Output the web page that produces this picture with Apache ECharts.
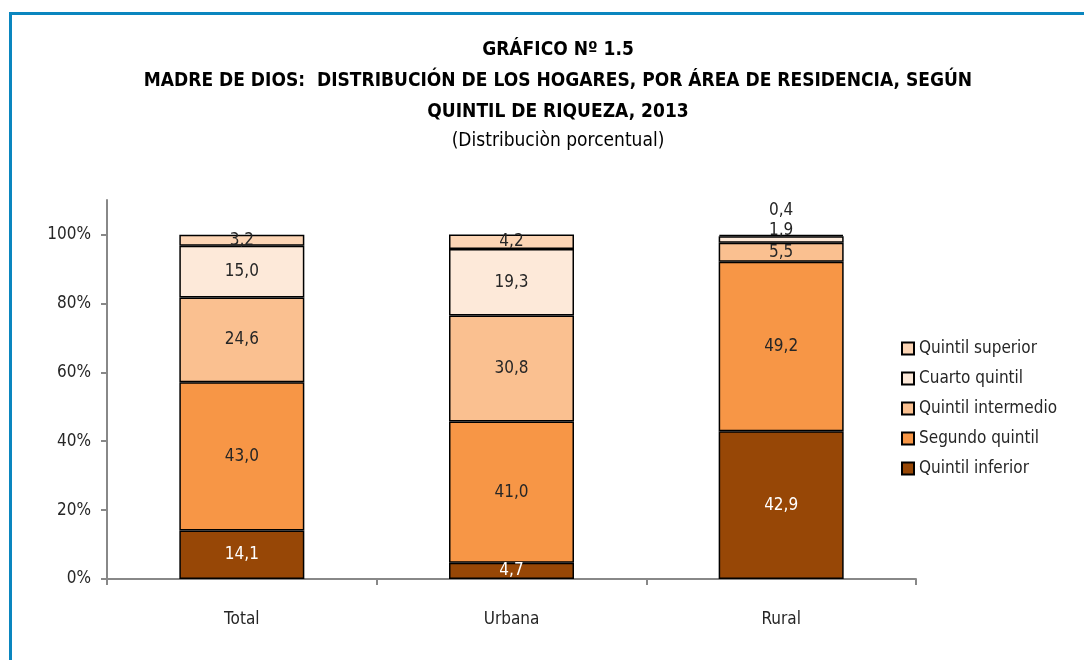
<!DOCTYPE html>
<html>
<head>
<meta charset="utf-8">
<script src="https://cdn.jsdelivr.net/npm/echarts@6/dist/echarts.min.js"></script>
<style>
  html, body { margin: 0; padding: 0; background: #fff; }
  #chart { width: 1084px; height: 660px; }
  #frame {
    position: absolute; left: 9px; top: 12px; right: -10px; bottom: -10px;
    border-left: 3px solid #0a86bf; border-top: 3px solid #0a86bf;
    pointer-events: none;
  }
</style>
</head>
<body>
<div id="chart"></div>
<div id="frame"></div>
<script>
// categories and values (percent)
var categories = ['Total', 'Urbana', 'Rural']
var quintilInferior = [14.1, 4.7, 42.9]
var segundoQuintil = [43.0, 41.0, 49.2]
var quintilIntermedio = [24.6, 30.8, 5.5]
var cuartoQuintil = [15.0, 19.3, 1.9]
var quintilSuperior = [3.2, 4.2, 0.4]
var yTicks = [0, 20, 40, 60, 80, 100]

var FONT = '"Liberation Sans Narrow", "DejaVu Sans Condensed", sans-serif'

var chart = echarts.init(document.getElementById('chart'))

function fmt(p) {
  return p.value.toFixed(1).replace('.', ',')
}

function bar(name, data, color, labelColor) {
  return {
    name: name,
    type: 'bar',
    stack: 'total',
    barWidth: 125,
    data: data,
    itemStyle: {
      color: color,
      borderColor: '#000',
      borderWidth: 1.5
    },
    label: {
      show: true,
      position: 'inside',
      formatter: fmt,
      color: labelColor || '#262626',
      fontFamily: FONT,
      fontSize: 17
    },
    emphasis: { disabled: true },
    animation: false
  }
}

// the two small rural labels sit above their slices, as in the original
var cuartoData = cuartoQuintil.map(function (v, i) {
  if (i === 2) return { value: v, label: { offset: [0, -9] } }
  return v
})
var superiorData = quintilSuperior.map(function (v, i) {
  if (i === 2) return { value: v, label: { position: 'top', distance: 5, offset: [0, -11] } }
  return v
})

chart.setOption({
  backgroundColor: '#fff',
  textStyle: { fontFamily: FONT },
  title: {
    text: 'GRÁFICO Nº 1.5\nMADRE DE DIOS:  DISTRIBUCIÓN DE LOS HOGARES, POR ÁREA DE RESIDENCIA, SEGÚN\nQUINTIL DE RIQUEZA, 2013',
    subtext: '(Distribuciòn porcentual)',
    left: 553,
    top: 30,
    textAlign: 'center',
    itemGap: 0,
    textStyle: {
      fontFamily: FONT,
      fontSize: 19,
      fontWeight: 'bold',
      color: '#000',
      lineHeight: 31
    },
    subtextStyle: {
      fontFamily: FONT,
      fontSize: 19,
      color: '#000',
      lineHeight: 26
    }
  },
  legend: {
    orient: 'vertical',
    left: 896,
    top: 335,
    itemWidth: 12,
    itemHeight: 12,
    itemGap: 13,
    icon: 'rect',
    data: ['Quintil superior', 'Cuarto quintil', 'Quintil intermedio', 'Segundo quintil', 'Quintil inferior'],
    textStyle: { fontFamily: FONT, fontSize: 17, color: '#262626' },
    selectedMode: false
  },
  grid: {
    left: 107,
    right: 168,
    top: 200,
    bottom: 81
  },
  xAxis: {
    type: 'category',
    data: categories,
    axisLine: { lineStyle: { color: '#888', width: 2 } },
    axisTick: { show: true, length: 6, lineStyle: { color: '#888', width: 2 } },
    axisLabel: { margin: 32, fontSize: 17, color: '#262626', fontFamily: FONT }
  },
  yAxis: {
    type: 'value',
    min: 0,
    max: 110,
    splitLine: { show: false },
    axisLine: { show: true, lineStyle: { color: '#888', width: 2 } },
    axisTick: { show: true, length: 6, customValues: yTicks, lineStyle: { color: '#888', width: 2 } },
    axisLabel: {
      customValues: yTicks,
      margin: 16,
      fontSize: 17,
      color: '#262626',
      fontFamily: FONT,
      formatter: '{value}%'
    }
  },
  series: [
    bar('Quintil inferior', quintilInferior, '#974706', '#fff'),
    bar('Segundo quintil', segundoQuintil, '#f79646'),
    bar('Quintil intermedio', quintilIntermedio, '#fac090'),
    bar('Cuarto quintil', cuartoData, '#fde9d9'),
    bar('Quintil superior', superiorData, '#fcd5b5')
  ]
})
</script>
</body>
</html>
